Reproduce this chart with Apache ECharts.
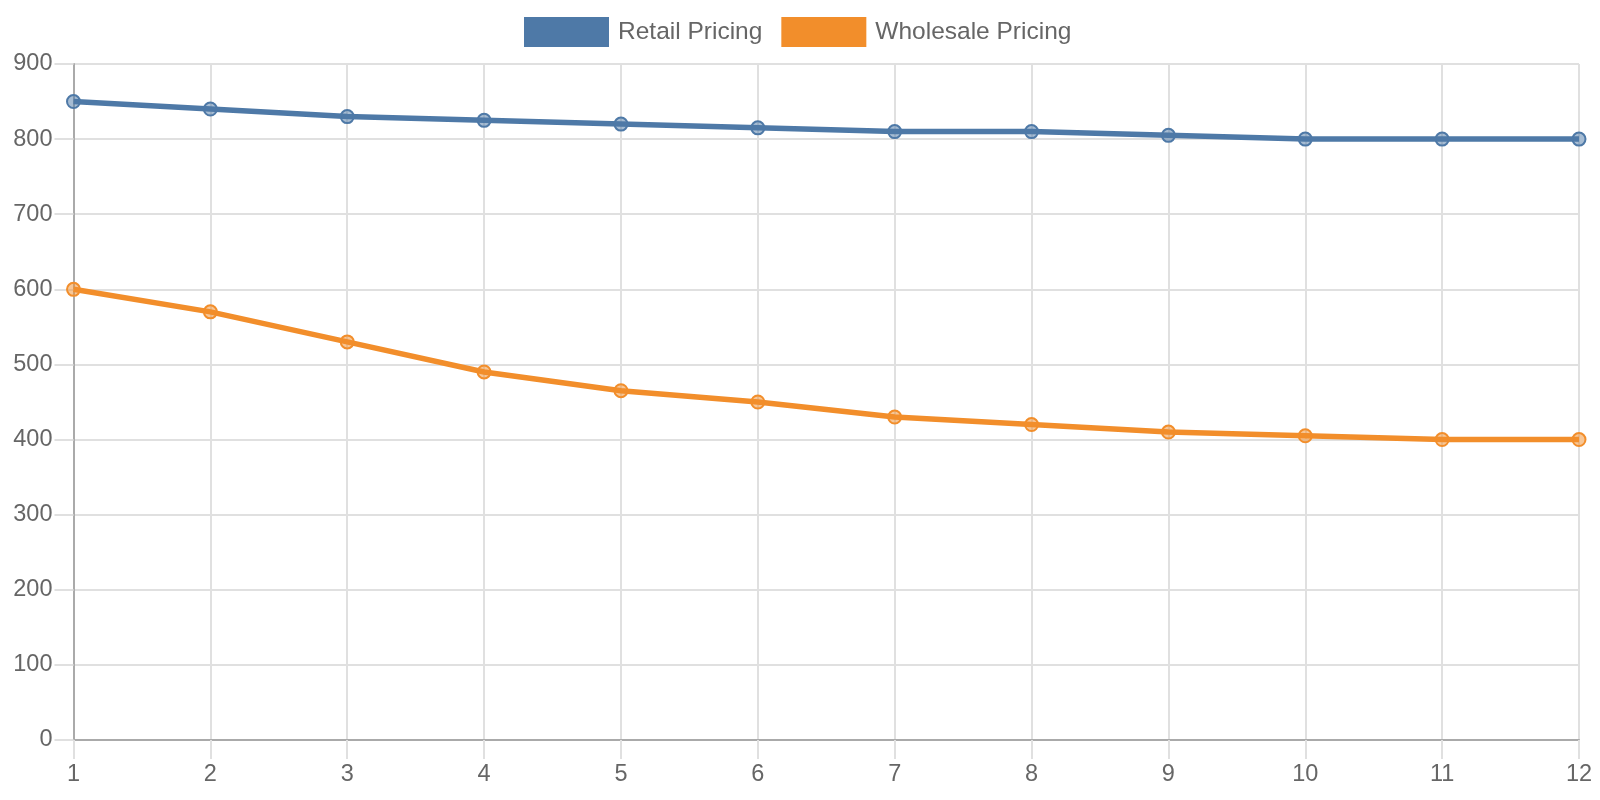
<!DOCTYPE html>
<html>
<head>
<meta charset="utf-8">
<title>Retail vs Wholesale Pricing</title>
<script src="https://cdn.jsdelivr.net/npm/echarts@6/dist/echarts.min.js"></script>
<style>
  html, body { margin: 0; padding: 0; background: #fff; }
  #chart { width: 1600px; height: 800px; }
</style>
</head>
<body>
<div id="chart"></div>
<script>
// 数据
const categories = ['1', '2', '3', '4', '5', '6', '7', '8', '9', '10', '11', '12']
const retailPricing = [850, 840, 830, 825, 820, 815, 810, 810, 805, 800, 800, 800]
const wholesalePricing = [600, 570, 530, 490, 465, 450, 430, 420, 410, 405, 400, 400]
const yTicks = { min: 0, max: 900, interval: 100 }

const blue = '#4e79a7'
const orange = '#f28e2b'
const font = 'Liberation Sans, Arial, Helvetica, sans-serif'

const chart = echarts.init(document.getElementById('chart'))

const makeSeries = (name, data, color, fill) => ({
  name: name,
  type: 'line',
  data: data,
  symbol: 'circle',
  symbolSize: 13,
  showSymbol: true,
  lineStyle: { width: 5.5, color: color },
  itemStyle: { color: fill, borderColor: color, borderWidth: 2 },
  emphasis: { disabled: true },
  z: 3
})

const option = {
  animation: false,
  textStyle: { fontFamily: font },
  legend: {
    top: 12,
    left: 519,
    icon: 'rect',
    itemWidth: 85,
    itemHeight: 30,
    itemGap: 19,
    textStyle: { fontSize: 24.5, color: '#666', fontFamily: font, padding: [0, 0, 0, 4] },
    data: [
      { name: 'Retail Pricing', itemStyle: { color: blue, borderWidth: 0 } },
      { name: 'Wholesale Pricing', itemStyle: { color: orange, borderWidth: 0 } }
    ]
  },
  grid: { left: 73.5, right: 21, top: 64, bottom: 60, containLabel: false },
  xAxis: {
    type: 'category',
    data: categories,
    boundaryGap: false,
    axisLine: { lineStyle: { color: '#aaa', width: 2 } },
    axisTick: { show: true, length: 19, lineStyle: { color: '#e0e0e0', width: 2 } },
    axisLabel: { fontSize: 23.5, color: '#666', margin: 23, fontFamily: font },
    splitLine: { show: true, lineStyle: { color: '#e0e0e0', width: 2 } }
  },
  yAxis: {
    type: 'value',
    min: yTicks.min,
    max: yTicks.max,
    interval: yTicks.interval,
    axisLine: { show: true, lineStyle: { color: '#aaa', width: 2 } },
    axisTick: { show: true, length: 19, lineStyle: { color: '#e0e0e0', width: 2 } },
    axisLabel: { fontSize: 23.5, color: '#666', margin: 21, fontFamily: font, padding: [3, 0, 0, 0] },
    splitLine: { show: true, lineStyle: { color: '#e0e0e0', width: 2 } }
  },
  series: [
    makeSeries('Retail Pricing', retailPricing, blue, 'rgba(78, 121, 167, 0.5)'),
    makeSeries('Wholesale Pricing', wholesalePricing, orange, 'rgba(242, 142, 43, 0.5)')
  ]
}

chart.setOption(option)
</script>
</body>
</html>
